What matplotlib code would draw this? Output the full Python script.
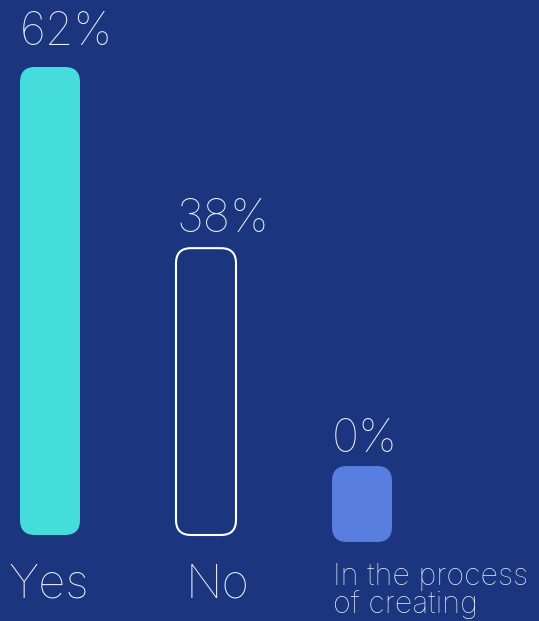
import matplotlib
matplotlib.use("Agg")
import matplotlib.pyplot as plt
from matplotlib.patches import FancyBboxPatch

# data
categories = ["Yes", "No", "In the process\nof creating"]
values = [62, 38, 0]
value_labels = ["62%", "38%", "0%"]

# style
bg = "#1b357e"
text_color = "#eef2fb"
bar_styles = [
    dict(facecolor="#45dcdc", edgecolor="none", lw=0),
    dict(facecolor="none", edgecolor="white", lw=1.5),
    dict(facecolor="#587ee0", edgecolor="none", lw=0),
]
cat_dx = [-12, 10, 1]        # px from bar left edge to category label
cat_base = [63, 63, 78]      # px below bar baseline (last line)
cat_size = [34, 34, 22]
label_gap = [22, 16, 14]     # px between bar top and value label baseline

W, H = 539, 621
px_x = 156.0                 # pixels per category step
px_y = 468.0 / 62            # pixels per percent
x0_px, base_px = 50, 535     # centre of first bar, baseline of bars
bar_w = 60 / px_x
radius = 15 / px_x
zero_h = 76 / px_y           # placeholder height for empty bar
zero_drop = 7 / px_y

plt.rcParams["font.family"] = "Inter"

fig = plt.figure(figsize=(W / 100, H / 100), dpi=100, facecolor=bg)
ax = fig.add_axes([0, 0, 1, 1])
ax.set_facecolor(bg)
ax.set_xlim(-x0_px / px_x, (W - x0_px) / px_x)
ax.set_ylim(-(H - base_px) / px_y, base_px / px_y)
ax.axis("off")

aspect = px_x / px_y
for i, (cat, v, lab) in enumerate(zip(categories, values, value_labels)):
    left = i - bar_w / 2
    if v > 0:
        bottom, height = 0, v
    else:
        bottom, height = -zero_drop, zero_h
    patch = FancyBboxPatch(
        (left, bottom), bar_w, height,
        boxstyle=f"round,pad=0,rounding_size={radius}",
        mutation_aspect=aspect,
        **bar_styles[i],
    )
    ax.add_patch(patch)

    top = bottom + height
    ax.text(left, top + label_gap[i] / px_y, lab, ha="left", va="baseline",
            fontsize=33, fontweight=100, color=text_color)

    ax.text(left + cat_dx[i] / px_x, -cat_base[i] / px_y, cat,
            ha="left", va="baseline", fontsize=cat_size[i], fontweight=100,
            color=text_color, linespacing=0.95)

fig.savefig("out.png", dpi=100, facecolor=bg)
